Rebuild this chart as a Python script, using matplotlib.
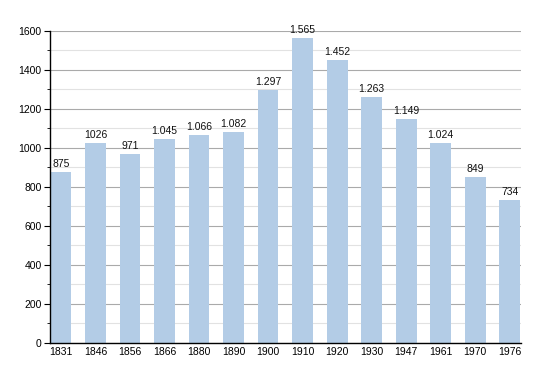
import matplotlib.pyplot as plt
from matplotlib.ticker import MultipleLocator

plt.rcParams['font.family'] = ['Liberation Sans', 'DejaVu Sans']

years = ['1831', '1846', '1856', '1866', '1880', '1890', '1900',
         '1910', '1920', '1930', '1947', '1961', '1970', '1976']
population = [875, 1026, 971, 1045, 1066, 1082, 1297,
              1565, 1452, 1263, 1149, 1024, 849, 734]
bar_labels = ['875', '1026', '971', '1.045', '1.066', '1.082', '1.297',
              '1.565', '1.452', '1.263', '1.149', '1.024', '849', '734']

fig = plt.figure(figsize=(5.5, 3.73), dpi=100)
ax = fig.add_axes([0.0909, 0.0804, 0.856, 0.837])

x = range(len(years))
bars = ax.bar(x, population, width=0.6, color='#b3cce6', zorder=2)

for bar, lab in zip(bars, bar_labels):
    ax.text(bar.get_x() + bar.get_width() / 2, bar.get_height() + 15, lab,
            ha='center', va='bottom', fontsize=7.5, color='#111111')

ax.set_xlim(-0.32, 13.32)
ax.set_ylim(0, 1600)
ax.set_xticks(list(x))
ax.set_xticklabels(years)
ax.yaxis.set_major_locator(MultipleLocator(200))
ax.yaxis.set_minor_locator(MultipleLocator(100))

ax.grid(axis='y', which='major', color='#aaaaaa', linewidth=0.8, zorder=0)
ax.grid(axis='y', which='minor', color='#e2e2e2', linewidth=0.8, zorder=0)

for side in ['top', 'right']:
    ax.spines[side].set_visible(False)
ax.spines['left'].set_linewidth(1.0)
ax.spines['bottom'].set_linewidth(1.0)

ax.tick_params(axis='x', length=0, labelsize=7.5, pad=3)
ax.tick_params(axis='y', which='major', length=4, labelsize=7.5, pad=2)
ax.tick_params(axis='y', which='minor', length=2)

fig.savefig('out.png', dpi=100)
